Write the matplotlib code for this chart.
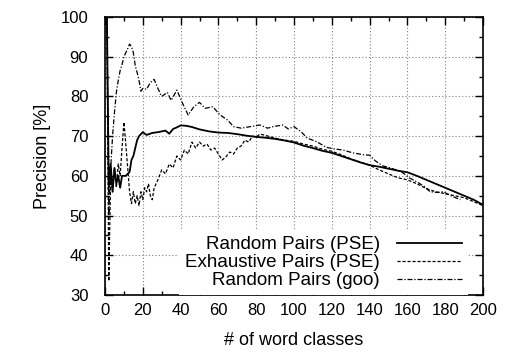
import numpy as np
import matplotlib.pyplot as plt
from matplotlib.ticker import MultipleLocator

plt.rcParams['font.family'] = ['Liberation Sans', 'DejaVu Sans']

# Random Pairs (PSE)
rand_x = [1, 2, 3, 4, 5, 6, 7, 8, 9, 10, 11, 12, 13, 14, 15, 16, 17, 18, 20,
          22, 25, 28, 30, 32, 34, 36, 38, 40, 43, 46, 50, 55, 60, 65, 70, 75,
          80, 85, 90, 95, 100, 105, 110, 115, 120, 125, 130, 135, 140, 145,
          150, 155, 160, 165, 170, 175, 180, 185, 190, 195, 200]
rand_y = [100, 57, 63, 56, 62, 58, 60, 57, 60, 60, 60, 60.5, 61, 64, 65, 67,
          69, 70, 71, 70.3, 70.8, 71, 71.2, 71.4, 70.6, 71.8, 72.2, 72.7, 72.6,
          72.3, 71.7, 71.2, 70.9, 70.8, 70.5, 70.1, 69.8, 69.6, 69.3, 68.9,
          68.4, 67.6, 67, 66.3, 65.8, 65, 64.2, 63.4, 62.7, 62.3, 61.8, 61.3,
          60.9, 60, 59, 58, 57, 56, 55, 54, 52.7]

# Exhaustive Pairs (PSE)
exh_x = [1, 2, 3, 4, 5, 6, 7, 8, 9, 10, 11, 12, 13, 14, 15, 16, 17, 18, 19,
         20, 21, 22, 23, 24, 25, 26, 28, 30, 32, 34, 36, 38, 40, 42, 44, 46,
         48, 50, 52, 54, 56, 58, 60, 62, 64, 66, 68, 70, 72, 74, 76, 78, 80,
         82, 84, 90, 95, 100, 105, 110, 115, 120, 125, 130, 135, 140, 145,
         150, 155, 160, 165, 170, 175, 180, 185, 190, 195, 200]
exh_y = [100, 33.5, 60, 56, 62, 57, 63, 60, 67, 73.5, 68, 62, 56, 53, 56, 53,
         55, 52.5, 56, 54, 57, 56, 58, 55, 54, 57, 59, 61.5, 60.5, 63, 62, 65,
         64, 66.5, 65.5, 68.5, 67, 68.5, 67.5, 68, 66.5, 67, 65.5, 64, 64.8,
         66, 65.5, 67, 67.5, 69, 68.5, 70, 69.8, 70.5, 70.3, 69.5, 69, 68.7,
         68, 67.5, 66.7, 66.2, 65.3, 64.3, 63.5, 62.7, 61.5, 60.5, 59.5, 59,
         58, 56.8, 56, 55.5, 55, 54.5, 53.5, 52.5]

# Random Pairs (goo)
goo_x = [1, 2, 3, 4, 5, 6, 7, 8, 9, 10, 11, 12, 13, 14, 15, 16, 17, 18, 19,
         20, 22, 24, 26, 28, 30, 33, 35, 38, 41, 44, 47, 50, 53, 57, 61, 65,
         68, 72, 77, 82, 86, 89, 94, 97, 100, 104, 107, 112, 117, 121, 126,
         131, 137, 140, 143, 147, 151, 154, 157, 161, 165, 169, 172, 176, 179,
         183, 188]
goo_y = [100, 50, 62, 70, 76, 81, 84, 86.5, 88, 90, 91, 92, 93.2, 92.5, 91,
         87.7, 86, 84, 81.3, 82, 81.8, 83.5, 84.3, 82, 80, 81, 79, 81.6, 78.3,
         75.3, 77.4, 78.5, 77, 77.4, 75.3, 74, 72.4, 72, 72.4, 72.8, 72, 72.4,
         72.8, 71.8, 72.4, 71, 69.5, 68.6, 67.2, 66.8, 66.5, 65.8, 65.3, 65.2,
         63.8, 62.5, 62, 61.5, 61, 59.5, 58.5, 57.3, 56, 55.8, 56, 55, 54]

fig = plt.figure(figsize=(5.11, 3.54), dpi=100)
ax = fig.add_axes([0.2055, 0.1667, 0.7397, 0.7853])

ax.plot(rand_x, rand_y, color='black', lw=1.3, ls='-', label='Random Pairs (PSE)')
ax.plot(exh_x, exh_y, color='black', lw=0.9, ls=(0, (2.5, 1.5)),
        label='Exhaustive Pairs (PSE)')
ax.plot(goo_x, goo_y, color='black', lw=0.9, ls=(0, (4, 1.5, 1, 1.5)),
        label='Random Pairs (goo)')

ax.set_xlim(0, 200)
ax.set_ylim(30, 100)
ax.xaxis.set_major_locator(MultipleLocator(20))
ax.xaxis.set_minor_locator(MultipleLocator(10))
ax.yaxis.set_major_locator(MultipleLocator(10))
ax.yaxis.set_minor_locator(MultipleLocator(5))
ax.tick_params(which='both', direction='in', top=True, right=True, width=1.0)
ax.tick_params(which='major', length=6, labelsize=12)
ax.tick_params(which='minor', length=3)
ax.tick_params(axis='x', pad=6)
ax.tick_params(axis='y', pad=12)
for s in ax.spines.values():
    s.set_linewidth(1.2)

ax.grid(True, which='major', color='0.5', ls=(0, (1, 2)), lw=0.8)
ax.set_axisbelow(True)

ax.set_xlabel('# of word classes', fontsize=13, labelpad=10)
ax.set_ylabel('Precision [%]', fontsize=13, labelpad=7)

leg = ax.legend(loc='lower right', bbox_to_anchor=(0.96, 0.0),
                markerfirst=False, fontsize=13.5, handlelength=3.5,
                handletextpad=0.9, labelspacing=0.05, borderpad=0.3,
                frameon=True, fancybox=False, edgecolor='none',
                facecolor='white', framealpha=1.0, borderaxespad=0.0)
# right-align the entries like gnuplot does
for col in leg._legend_handle_box.get_children():
    col.align = 'right'

fig.savefig('out.png', dpi=100)
